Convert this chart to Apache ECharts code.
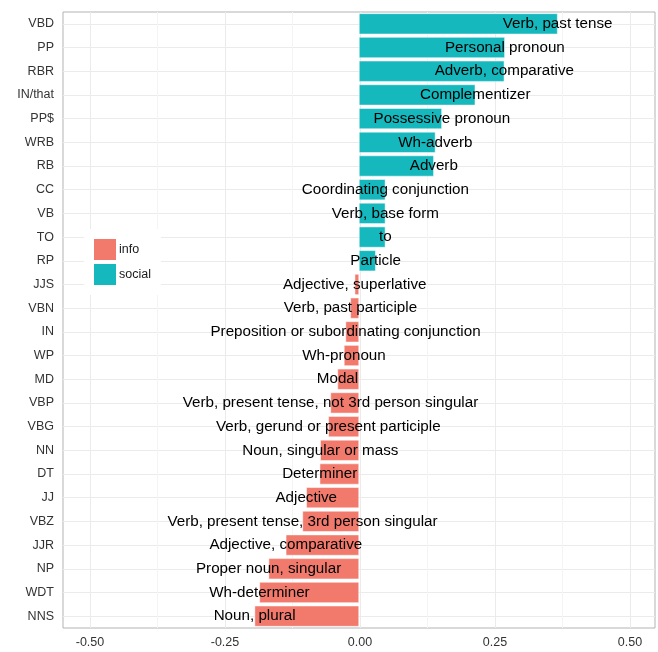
<!DOCTYPE html>
<html>
<head>
<meta charset="utf-8">
<title>POS tags</title>
<script src="https://cdn.jsdelivr.net/npm/echarts@6/dist/echarts.min.js"></script>
</head>
<body style="margin:0;background:#fff;">
<div id="myChart" style="width:658px;height:652px;"></div>
<script>
// tags from top to bottom
var tags = ["VBD", "PP", "RBR", "IN/that", "PP$", "WRB", "RB", "CC", "VB", "TO", "RP",
  "JJS", "VBN", "IN", "WP", "MD", "VBP", "VBG", "NN", "DT", "JJ", "VBZ", "JJR", "NP", "WDT", "NNS"];
var descriptions = ["Verb, past tense", "Personal pronoun", "Adverb, comparative", "Complementizer",
  "Possessive pronoun", "Wh-adverb", "Adverb", "Coordinating conjunction", "Verb, base form", "to",
  "Particle", "Adjective, superlative", "Verb, past participle",
  "Preposition or subordinating conjunction", "Wh-pronoun", "Modal",
  "Verb, present tense, not 3rd person singular", "Verb, gerund or present participle",
  "Noun, singular or mass", "Determiner", "Adjective", "Verb, present tense, 3rd person singular",
  "Adjective, comparative", "Proper noun, singular", "Wh-determiner", "Noun, plural"];
var values = [0.369, 0.271, 0.270, 0.216, 0.154, 0.142, 0.139, 0.049, 0.049, 0.049, 0.031,
  -0.008, -0.016, -0.025, -0.028, -0.040, -0.053, -0.057, -0.072, -0.073, -0.098, -0.105,
  -0.136, -0.168, -0.185, -0.194];
var groups = ["info", "social"];
var colors = ["#F27A6D", "#14B8BD"];

var myChart = echarts.init(document.getElementById("myChart"));

var infoData = values.map(function (v) { return v < 0 ? v : "-"; });
var socialData = values.map(function (v) { return v >= 0 ? v : "-"; });
var labelData = values.map(function (v, i) { return [v, tags[i]]; });

var option = {
  animation: false,
  textStyle: { fontFamily: "Liberation Sans, Arial, sans-serif" },
  grid: [
    // panel with the bars
    { left: 63, right: 3, top: 12, bottom: 24, show: true, borderColor: "#b3b3b3", borderWidth: 1 },
    // only for the x ticks and vertical grid lines (-0.5 .. 0.5)
    { left: 90, right: 28, top: 12, bottom: 24 }
  ],
  legend: {
    data: groups,
    orient: "vertical",
    left: 84,
    top: 229,
    padding: [8, 10, 8, 8],
    itemGap: 0,
    itemWidth: 24,
    itemHeight: 23,
    icon: "rect",
    backgroundColor: "#fff",
    selectedMode: false,
    textStyle: { color: "#1a1a1a", fontSize: 12.5, padding: [0, 0, 0, -3] }
  },
  xAxis: [
    {
      gridIndex: 0,
      type: "value",
      min: -0.55,
      max: 0.55,
      axisLine: { show: false },
      axisTick: { show: false },
      axisLabel: { show: false },
      splitLine: { show: false }
    },
    {
      gridIndex: 1,
      type: "value",
      min: -0.5,
      max: 0.5,
      interval: 0.25,
      axisLine: { show: false },
      axisTick: { show: false },
      axisLabel: {
        color: "#333",
        fontSize: 12.5,
        margin: 8,
        formatter: function (v) { return v.toFixed(2); }
      },
      splitLine: { show: true, lineStyle: { color: "#ebebeb", width: 1 } },
      minorTick: { show: false, splitNumber: 2 },
      minorSplitLine: { show: true, lineStyle: { color: "#f4f4f4", width: 1 } }
    }
  ],
  yAxis: [
    {
      gridIndex: 0,
      type: "category",
      data: tags,
      inverse: true,
      axisLine: { show: false },
      axisTick: { show: false },
      axisLabel: { color: "#333", fontSize: 12.5, margin: 9 },
      splitLine: { show: true, alignWithLabel: true, lineStyle: { color: "#ebebeb", width: 1 } }
    },
    {
      gridIndex: 1,
      type: "value",
      show: false
    }
  ],
  series: [
    {
      name: "info",
      type: "bar",
      stack: "all",
      barWidth: "88%",
      itemStyle: { color: colors[0], borderColor: "#fff", borderWidth: 0.5 },
      data: infoData
    },
    {
      name: "social",
      type: "bar",
      stack: "all",
      barWidth: "88%",
      itemStyle: { color: colors[1], borderColor: "#fff", borderWidth: 0.5 },
      data: socialData
    },
    {
      name: "labels",
      type: "scatter",
      symbolSize: 0,
      z: 5,
      itemStyle: { opacity: 1 },
      data: labelData,
      label: {
        show: true,
        position: "inside",
        color: "#000",
        opacity: 1,
        fontSize: 15.2,
        formatter: function (p) { return descriptions[p.dataIndex]; }
      }
    }
  ]
};

myChart.setOption(option, true);
</script>
</body>
</html>
